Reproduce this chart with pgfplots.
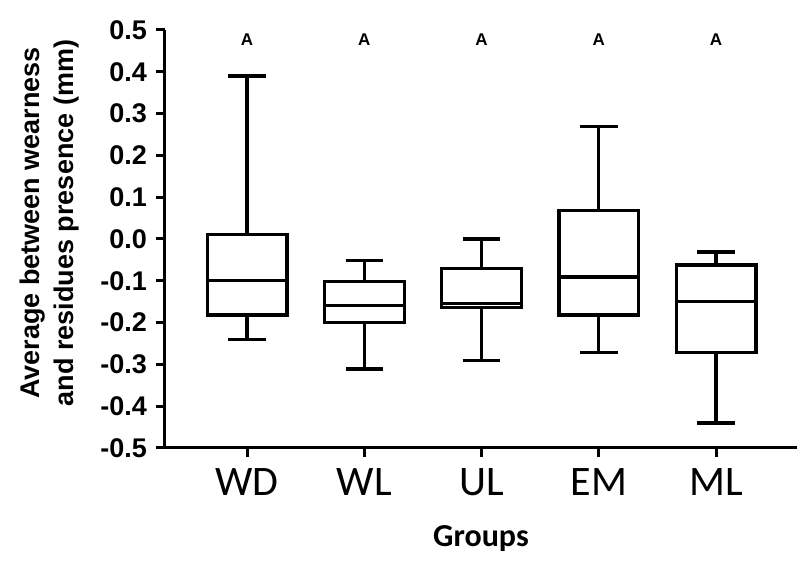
\documentclass[border=0pt]{standalone}
\usepackage{pgfplots}
\pgfplotsset{compat=1.18}
\usepgfplotslibrary{statistics}
\usetikzlibrary{calc}
\usepackage{fontspec}
\setmainfont{Liberation Sans}
\newfontfamily\calibri{Carlito}

\begin{document}
\begin{tikzpicture}
\begin{axis}[
    name=ax,
    scale only axis,
    width=316pt,
    height=209pt,
    xmin=0.3, xmax=5.69,
    ymin=-0.5, ymax=0.5,
    axis x line=bottom,
    axis y line=left,
    axis line style={-, line width=1.5pt},
    xtick={1,2,3,4,5},
    xticklabels={WD,WL,UL,EM,ML},
    ytick={-0.5,-0.4,...,0.51},
    tick align=outside,
    major tick length=4.5pt,
    tick style={line width=1.5pt, black},
    yticklabel style={font=\fontsize{13.5}{15}\selectfont\bfseries, xshift=-1pt,
        /pgf/number format/fixed, /pgf/number format/fixed zerofill,
        /pgf/number format/precision=1, /pgf/number format/assume math mode=true},
    xticklabel style={font=\calibri\fontsize{21}{24}\selectfont, yshift=-2pt},
    xlabel={Groups},
    xlabel style={font=\calibri\fontsize{16}{18}\selectfont\bfseries, yshift=-8pt},
    ylabel={Average between wearness\\and residues presence (mm)},
    ylabel style={font=\fontsize{13.5}{17}\selectfont\bfseries, align=center, yshift=4pt, xshift=8pt},
    clip=false,
    boxplot/draw direction=y,
    bx/.style={black, line width=1.6pt, fill=none, solid},
]
\addplot[bx, boxplot prepared={draw position=1, lower whisker=-0.24, lower quartile=-0.182, median=-0.099, upper quartile=0.011, upper whisker=0.39, box extend=0.68, whisker extend=0.32}] coordinates {};
\addplot[bx, boxplot prepared={draw position=2, lower whisker=-0.311, lower quartile=-0.200, median=-0.159, upper quartile=-0.101, upper whisker=-0.051, box extend=0.68, whisker extend=0.32}] coordinates {};
\addplot[bx, boxplot prepared={draw position=3, lower whisker=-0.29, lower quartile=-0.163, median=-0.155, upper quartile=-0.070, upper whisker=0.0, box extend=0.68, whisker extend=0.32}] coordinates {};
\addplot[bx, boxplot prepared={draw position=4, lower whisker=-0.272, lower quartile=-0.182, median=-0.091, upper quartile=0.069, upper whisker=0.269, box extend=0.68, whisker extend=0.32}] coordinates {};
\addplot[bx, boxplot prepared={draw position=5, lower whisker=-0.44, lower quartile=-0.272, median=-0.150, upper quartile=-0.062, upper whisker=-0.031, box extend=0.68, whisker extend=0.32}] coordinates {};
\node[font=\fontsize{8.5}{10}\selectfont\bfseries] at (axis cs:1,0.478) {A};
\node[font=\fontsize{8.5}{10}\selectfont\bfseries] at (axis cs:2,0.478) {A};
\node[font=\fontsize{8.5}{10}\selectfont\bfseries] at (axis cs:3,0.478) {A};
\node[font=\fontsize{8.5}{10}\selectfont\bfseries] at (axis cs:4,0.478) {A};
\node[font=\fontsize{8.5}{10}\selectfont\bfseries] at (axis cs:5,0.478) {A};
\end{axis}
\pgfresetboundingbox
\path[use as bounding box] ($(ax.south west)+(-82.5pt,-65pt)$) rectangle ($(ax.north east)+(1.5pt,15pt)$);
\end{tikzpicture}
\end{document}
